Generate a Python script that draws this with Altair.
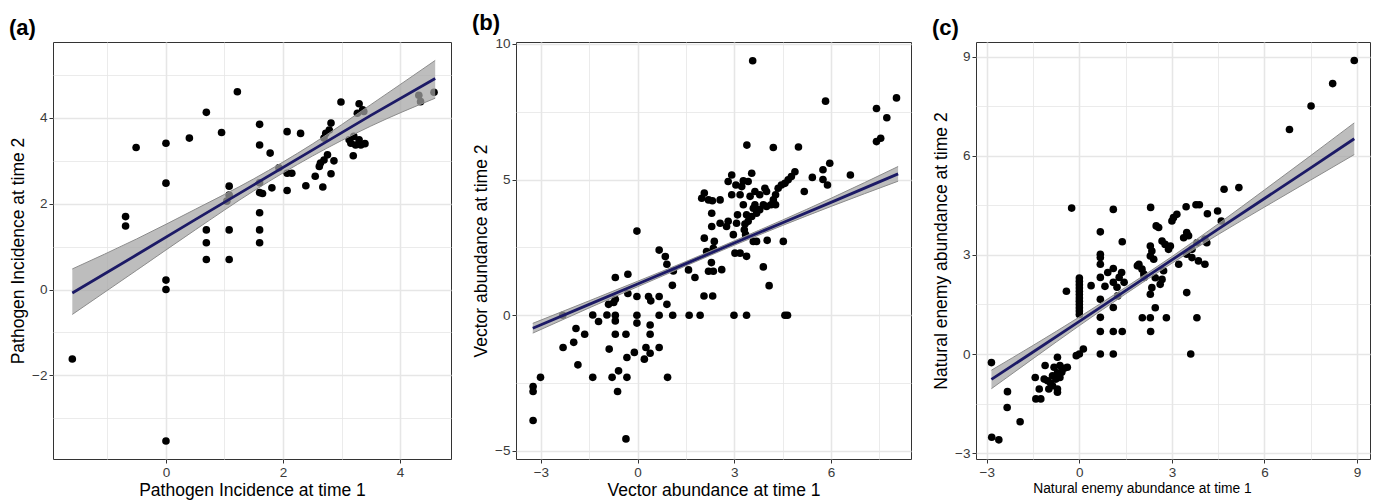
import altair as alt
import pandas as pd

# ---------------- panel (a) ----------------
a_x = [-1.60, -0.69, -0.69, -0.51, 0.0, 0.0, 0.0, 0.0, 0.0, 0.40, 0.69, 0.69, 0.69, 0.69,
       0.95, 1.08, 1.08, 1.04, 1.08, 1.08, 1.22, 1.60, 1.60, 1.60, 1.60, 1.65, 1.60, 1.60,
       1.60, 1.78, 1.81, 1.93, 2.07, 2.07, 2.15, 2.07, 2.30, 2.39, 2.55, 2.62, 2.64, 2.70,
       2.76, 2.87, 2.68, 2.82, 2.70, 2.73, 2.79, 2.82, 2.99, 3.13, 3.21, 3.30, 3.16, 3.33,
       3.40, 3.24, 3.20, 3.30, 3.36, 3.27, 3.38, 4.32, 4.35, 4.58]
a_y = [-1.62, 1.70, 1.48, 3.31, 3.41, 2.48, 0.22, 0.0, -3.53, 3.53, 4.13, 1.39, 1.09, 0.70,
       3.66, 2.41, 2.20, 2.06, 1.39, 0.70, 4.61, 3.85, 3.37, 2.49, 2.26, 2.24, 1.79, 1.39,
       1.09, 3.18, 2.37, 2.84, 3.68, 2.71, 2.71, 2.31, 3.64, 2.42, 2.64, 2.87, 2.95, 3.02,
       3.14, 3.00, 2.39, 2.70, 3.53, 3.64, 3.72, 3.88, 4.37, 3.49, 3.57, 3.49, 3.41, 3.37,
       3.40, 3.37, 3.12, 4.33, 4.19, 4.11, 4.15, 4.53, 4.38, 4.60]
a_fit_x = [-1.6, -0.5, 0.5, 1.5, 2.5, 3.5, 4.6]
a_fit_y = [-0.08, 0.81, 1.63, 2.44, 3.25, 4.06, 4.92]
a_fit_lo = [-0.58, 0.45, 1.39, 2.30, 3.11, 3.81, 4.46]
a_fit_hi = [0.48, 1.18, 1.87, 2.58, 3.39, 4.31, 5.34]
a_x_ticks = [-1, 0, 1, 2, 3, 4]
a_y_ticks = [-3, -2, -1, 0, 1, 2, 3, 4, 5]

# ---------------- panel (b) ----------------
b_pts = [
    (-3.24, -2.63), (-3.24, -2.81), (-3.01, -2.29), (-3.24, -3.88), (-2.32, 0.0), (-2.31, -1.19),
    (-1.98, -1.0), (-1.91, -0.49), (-1.85, -1.83), (-1.64, -0.70), (-1.39, 0.01), (-1.39, -2.29),
    (-1.21, -0.23), (-0.95, 0.01), (-0.90, 0.40), (-0.88, -1.25), (-0.79, -2.29), (-0.74, 0.47),
    (-0.69, 0.59), (-0.69, 1.39), (-0.69, 0.0), (-0.69, -0.21), (-0.69, -0.70), (-0.62, -2.81),
    (-0.59, -2.05), (-0.36, -0.70), (-0.36, -4.56), (-0.33, -1.56), (-0.33, -2.29), (-0.30, 1.51),
    (-0.30, 0.80), (-0.10, -1.37), (-0.02, 3.10), (-0.02, 0.69), (-0.02, 0.0), (-0.02, -0.29),
    (0.21, -1.62), (0.26, -1.19), (0.34, 0.69), (0.39, -0.36), (0.39, -0.70), (0.39, -1.40),
    (0.41, 0.53), (0.67, 2.40), (0.67, 0.69), (0.67, 0.0), (0.67, -1.19), (0.86, 2.16),
    (0.91, 1.88), (0.91, 0.40), (0.93, -2.29), (1.11, 1.63), (1.08, 1.10), (1.09, 0.0),
    (1.58, 1.67), (1.60, 0.0), (1.78, 1.39), (1.94, 0.0), (2.06, 0.71), (2.33, 0.71),
    (1.99, 4.31), (2.07, 4.50), (2.20, 4.25), (2.32, 4.22), (2.30, 3.76), (2.30, 3.27),
    (2.56, 3.39), (2.76, 3.27), (2.07, 2.84), (2.38, 2.72), (2.35, 2.47), (2.14, 2.35),
    (2.29, 1.94), (2.20, 1.62), (2.35, 1.62), (2.61, 1.68), (2.56, 4.25), (2.92, 5.17),
    (2.81, 4.93), (2.92, 4.44), (3.10, 3.70), (3.28, 4.07), (3.23, 4.74), (3.18, 4.44),
    (3.43, 4.93), (3.54, 5.23), (3.64, 4.56), (3.49, 4.38), (3.95, 4.68), (2.97, 2.97),
    (3.02, 2.29), (3.18, 2.29), (3.38, 2.17), (3.59, 2.72), (3.69, 2.72), (4.02, 2.76),
    (4.52, 2.72), (3.90, 1.78), (4.08, 1.09), (2.99, 0.0), (3.38, 0.0), (4.57, 0.0),
    (4.65, 0.0), (4.88, 5.29), (4.77, 5.11), (4.67, 4.99), (4.57, 4.86), (4.46, 4.80),
    (4.36, 4.68), (4.28, 4.44), (4.21, 4.25), (4.14, 4.07), (4.28, 4.07), (4.00, 4.01),
    (3.90, 4.07), (3.79, 3.89), (3.69, 3.76), (3.59, 3.94), (3.54, 3.64), (3.43, 3.46),
    (3.33, 3.36), (3.31, 3.15), (3.35, 2.97), (3.05, 4.80), (3.28, 4.95), (2.81, 3.46),
    (3.07, 3.39), (3.38, 3.70), (3.64, 4.07), (3.79, 4.44), (4.00, 4.56), (3.57, 9.38),
    (5.83, 7.89), (7.41, 7.62), (7.73, 7.28), (8.03, 8.01), (7.41, 6.40), (7.54, 6.52),
    (3.39, 6.27), (4.21, 6.18), (4.99, 6.20), (5.96, 5.60), (5.75, 5.36), (6.60, 5.17),
    (5.42, 5.08), (5.89, 4.80), (5.75, 5.0), (5.17, 4.56)]
b_x = [p[0] for p in b_pts]
b_y = [p[1] for p in b_pts]
b_fit_x = [-3.25, -1.5, 0.0, 1.5, 3.0, 4.5, 6.0, 8.08]
b_fit_y = [-0.48, 0.40, 1.15, 1.90, 2.66, 3.41, 4.16, 5.21]
b_fit_lo = [-0.66, 0.27, 1.05, 1.82, 2.58, 3.31, 4.01, 4.94]
b_fit_hi = [-0.30, 0.53, 1.25, 1.98, 2.74, 3.51, 4.31, 5.48]
b_x_ticks = [-3, -1.5, 0, 1.5, 3, 4.5, 6, 7.5]
b_y_ticks = [-5, -2.5, 0, 2.5, 5, 7.5, 10]

# ---------------- panel (c) ----------------
c_pts = [
    (-2.85, -0.26), (-2.84, -2.52), (-2.61, -2.60), (-2.33, -1.14), (-2.34, -1.62), (-1.92, -2.05),
    (-1.43, -0.71), (-1.41, -1.36), (-1.25, -1.36), (-1.30, -1.06), (-1.11, -0.35), (-1.14, -0.76),
    (-1.03, -0.81), (-0.93, -0.88), (-0.87, -0.66), (-0.71, -0.10), (-0.82, -0.40), (-0.63, -0.35),
    (-0.49, -0.43), (-0.39, -0.40), (-0.71, -0.57), (-0.57, -0.55), (-0.76, -0.76), (-0.63, -0.71),
    (-0.87, -0.96), (-0.71, -1.06), (-0.71, -1.16), (-0.99, -1.06), (-0.10, -0.05), (0.13, 0.15),
    (0.0, 0.0), (-0.42, 1.90), (-0.25, 4.42),
    (0.0, 2.3), (0.0, 2.2), (0.0, 2.1), (0.0, 2.0), (0.0, 1.9), (0.0, 1.8), (0.0, 1.7), (0.0, 1.6),
    (0.0, 1.5), (0.0, 1.4), (0.0, 1.3), (0.0, 1.2),
    (0.38, 2.07), (0.68, 3.70), (0.68, 3.02), (0.68, 2.92), (0.68, 2.72), (0.68, 2.32), (0.68, 1.66),
    (0.68, 1.11), (0.68, 0.68), (0.68, 0.0), (0.83, 2.05), (0.92, 2.47), (1.10, 4.38), (1.10, 2.59),
    (1.10, 2.17), (1.10, 1.41), (1.10, 0.68), (1.10, 0.0), (1.22, 2.02), (1.29, 2.32), (1.37, 2.47),
    (1.45, 2.17), (1.24, 1.76), (1.39, 3.40), (1.39, 0.68), (1.88, 2.67), (1.93, 2.72), (2.03, 2.57),
    (2.09, 2.42), (2.10, 2.32), (2.04, 1.10), (2.30, 1.10), (2.82, 1.10), (2.31, 4.44), (2.31, 0.68),
    (2.30, 3.27), (2.35, 3.12), (2.30, 2.97), (2.41, 2.87), (2.46, 2.31), (2.68, 2.26), (2.62, 2.11),
    (2.35, 2.01), (2.30, 1.81), (2.73, 2.52), (2.46, 1.40), (2.49, 3.88), (2.57, 3.83), (2.68, 3.42),
    (2.78, 3.32), (2.89, 3.17), (2.95, 3.27), (3.00, 4.03), (3.05, 4.13), (3.16, 4.23), (3.22, 2.72),
    (3.46, 4.46), (3.48, 3.68), (3.54, 3.58), (3.38, 3.52), (3.65, 3.17), (3.48, 3.02), (3.65, 2.92),
    (3.86, 2.82), (4.07, 2.72), (3.48, 1.86), (3.61, 0.0), (3.81, 1.10), (3.78, 4.52), (3.89, 4.52),
    (3.81, 3.37), (4.07, 3.48), (4.13, 3.37), (4.15, 4.25), (4.48, 4.33), (4.60, 4.03), (4.69, 4.99),
    (5.17, 5.04), (6.81, 6.80), (7.51, 7.51), (8.21, 8.19), (8.91, 8.89)]
c_x = [p[0] for p in c_pts]
c_y = [p[1] for p in c_pts]
c_fit_x = [-2.85, -1.5, 0.0, 1.5, 3.0, 4.5, 6.0, 7.5, 8.91]
c_fit_y = [-0.77, 0.06, 0.99, 1.92, 2.85, 3.78, 4.71, 5.64, 6.52]
c_fit_lo = [-1.05, -0.14, 0.86, 1.82, 2.75, 3.62, 4.45, 5.27, 6.04]
c_fit_hi = [-0.49, 0.26, 1.12, 2.02, 2.95, 3.94, 4.97, 6.01, 7.00]
c_x_ticks = [-3, -1.5, 0, 1.5, 3, 4.5, 6, 7.5, 9]
c_y_ticks = [-3, -1.5, 0, 1.5, 3, 4.5, 6, 7.5, 9]

FONT = "Liberation Sans"


def make_axis(values, step, title, title_size=17.5, is_y=False, title_x=None):
    minor = f"datum.value % {step} != 0"
    kw = dict(
        values=values,
        title=title,
        labelExpr=f"{minor} ? '' : format(datum.value, 'd')",
        gridColor="#e6e6e6",
        gridWidth={"condition": {"test": minor, "value": 0.8}, "value": 1.6},
        tickOpacity={"condition": {"test": minor, "value": 0}, "value": 1},
        titleFont=FONT,
        titleFontSize=title_size,
    )
    if is_y:
        kw.update(minExtent=22, maxExtent=22, titlePadding=4)
    else:
        kw.update(labelPadding=2, titlePadding=3)
    if title_x is not None:
        kw.update(titleX=title_x, titleAlign="center")
    return alt.Axis(**kw)


def panel(label, xs, ys, fx, fy, flo, fhi, xdom, ydom, xticks, yticks, xstep, ystep,
          xtitle, ytitle, width, height, xtitle_size=17.5, xtitle_x=None):
    pts = pd.DataFrame({"x": xs, "y": ys})
    fit = pd.DataFrame({"x": fx, "fit": fy, "lo": flo, "hi": fhi})
    xsc = alt.Scale(domain=xdom, nice=False, zero=False)
    ysc = alt.Scale(domain=ydom, nice=False, zero=False)
    xax = make_axis(xticks, xstep, xtitle, title_size=xtitle_size, title_x=xtitle_x)
    yax = make_axis(yticks, ystep, ytitle, is_y=True)

    points = alt.Chart(pts).mark_circle(color="black", size=58, opacity=1).encode(
        x=alt.X("x:Q", scale=xsc, axis=xax),
        y=alt.Y("y:Q", scale=ysc, axis=yax),
    )
    band = alt.Chart(fit).mark_area(color="#a3a3a3", opacity=0.72, interpolate="monotone").encode(
        x=alt.X("x:Q", scale=xsc),
        y=alt.Y("lo:Q", scale=ysc),
        y2="hi:Q",
    )
    edge_lo = alt.Chart(fit).mark_line(color="#8c8c8c", strokeWidth=1, interpolate="monotone").encode(
        x=alt.X("x:Q", scale=xsc), y=alt.Y("lo:Q", scale=ysc))
    edge_hi = alt.Chart(fit).mark_line(color="#8c8c8c", strokeWidth=1, interpolate="monotone").encode(
        x=alt.X("x:Q", scale=xsc), y=alt.Y("hi:Q", scale=ysc))
    line = alt.Chart(fit).mark_line(color="#1c1a66", strokeWidth=2.8).encode(
        x=alt.X("x:Q", scale=xsc), y=alt.Y("fit:Q", scale=ysc))
    return alt.layer(points, band, edge_lo, edge_hi, line).properties(
        width=width, height=height,
        title=alt.TitleParams(text=label, anchor="start", frame="bounds", fontSize=22,
                              fontWeight="bold", font=FONT, color="black", offset=2),
    )


pa = panel("(a)", a_x, a_y, a_fit_x, a_fit_y, a_fit_lo, a_fit_hi,
           [-1.93, 4.87], [-3.95, 5.77], a_x_ticks, a_y_ticks, 2, 2,
           "Pathogen Incidence at time 1", "Pathogen Incidence at time 2", 398, 417)
pb = panel("(b)", b_x, b_y, b_fit_x, b_fit_y, b_fit_lo, b_fit_hi,
           [-3.77, 8.48], [-5.3, 10.07], b_x_ticks, b_y_ticks, 3, 5,
           "Vector abundance at time 1", "Vector abundance at time 2", 395, 417)
pc = panel("(c)", c_x, c_y, c_fit_x, c_fit_y, c_fit_lo, c_fit_hi,
           [-3.35, 9.42], [-3.18, 9.45], c_x_ticks, c_y_ticks, 3, 3,
           "Natural enemy abundance at time 1", "Natural enemy abundance at time 2", 394, 417,
           xtitle_size=13.8, xtitle_x=166)

chart = alt.hconcat(pa, pb, pc, spacing=19).properties(
    padding={"left": 0, "top": 3, "right": 0, "bottom": 0}
).configure_view(
    stroke="#333333", strokeWidth=1
).configure_axis(
    domain=False,
    tickColor="#333333",
    tickSize=4,
    tickWidth=1,
    labelColor="#3a3a3a",
    labelFont=FONT,
    labelFontSize=13.5,
    titleColor="black",
    titleFontWeight="normal",
)

chart.save("out.html", embed_options={"renderer": "svg", "actions": False})
